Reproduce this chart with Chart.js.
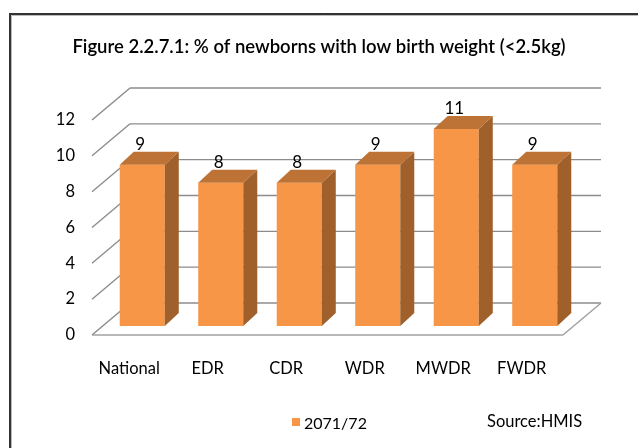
<!DOCTYPE html>
<html>
<head>
<meta charset="utf-8">
<script src="https://cdn.jsdelivr.net/npm/chart.js@4"></script>
<style>
  html, body { margin: 0; padding: 0; background: #fff; }
  #wrap { width: 638px; height: 448px; }
</style>
</head>
<body>
<div id="wrap"><canvas id="lbwChart" width="638" height="448"></canvas></div>
<script>
// chart data
const categories = ['National', 'EDR', 'CDR', 'WDR', 'MWDR', 'FWDR'];
const lbwValues = [9, 8, 8, 9, 11, 9];
const yTicks = [0, 2, 4, 6, 8, 10, 12];
const seriesLabel = '2071/72';
const titleText = 'Figure 2.2.7.1: % of newborns with low birth weight (<2.5kg)';
const sourceText = 'Source:HMIS';

// look of the fake 3D
const FONT = 'Lato, "Open Sans", sans-serif';
const FRONT = { dx: -11, dy: 9 };   // floor front edge, relative to bar plane
const BACK = { dx: 27, dy: -23 };   // back wall, relative to bar plane
const BAR_DEPTH = { dx: 14, dy: -13 };
const COL_FRONT = '#F79646';
const COL_TOP = '#BD7236';
const COL_SIDE = '#9F602B';
const GRID_COL = '#8C8C8C';

function line(ctx, x1, y1, x2, y2) {
  ctx.beginPath();
  ctx.moveTo(x1, y1);
  ctx.lineTo(x2, y2);
  ctx.stroke();
}

// frame + title + legend
const framePlugin = {
  id: 'frame',
  beforeDraw(chart) {
    const ctx = chart.ctx;
    ctx.save();
    ctx.fillStyle = '#fff';
    ctx.fillRect(0, 0, chart.width, chart.height);
    ctx.strokeStyle = '#BBBBBB';
    ctx.lineWidth = 1;
    line(ctx, 11.5, chart.height, 11.5, 15.5);
    line(ctx, 11.5, 15.5, chart.width, 15.5);
    ctx.strokeStyle = '#333';
    ctx.lineWidth = 2;
    line(ctx, 10, chart.height, 10, 14);
    line(ctx, 9, 14, chart.width, 14);
    ctx.restore();
  },
  afterDraw(chart) {
    const ctx = chart.ctx;
    ctx.save();
    ctx.fillStyle = '#000';
    ctx.textBaseline = 'middle';
    ctx.textAlign = 'center';
    ctx.font = '600 18.5px ' + FONT;
    ctx.fillText(titleText, chart.width / 2, 47);

    const ds = chart.data.datasets[0];
    ctx.fillStyle = ds.backgroundColor;
    ctx.fillRect(292, 418, 8, 8);
    ctx.fillStyle = '#000';
    ctx.textAlign = 'left';
    ctx.font = '16px ' + FONT;
    ctx.fillText(ds.label, 304, 424);
    ctx.font = '16.5px ' + FONT;
    ctx.fillText(sourceText, 487, 422);
    ctx.restore();
  }
};

// back wall, side wall and floor
const wallsPlugin = {
  id: 'walls',
  beforeDatasetsDraw(chart) {
    const ctx = chart.ctx;
    const y = chart.scales.y;
    const L = chart.chartArea.left, R = chart.chartArea.right;
    ctx.save();
    ctx.strokeStyle = GRID_COL;
    ctx.lineWidth = 1.4;
    yTicks.forEach(v => {
      const yb = y.getPixelForValue(v);
      line(ctx, L + BACK.dx, yb + BACK.dy, R + BACK.dx, yb + BACK.dy);
      line(ctx, L + FRONT.dx, yb + FRONT.dy, L + BACK.dx, yb + BACK.dy);
    });
    const y0 = y.getPixelForValue(0);
    ctx.strokeStyle = '#A0A0A0';
    line(ctx, L + FRONT.dx, y0 + FRONT.dy, R + FRONT.dx, y0 + FRONT.dy);
    line(ctx, R + FRONT.dx, y0 + FRONT.dy, R + BACK.dx, y0 + BACK.dy);
    ctx.restore();
  },
  afterDatasetsDraw(chart) {
    const ctx = chart.ctx;
    const meta = chart.getDatasetMeta(0);
    ctx.save();
    meta.data.forEach((bar, i) => {
      const left = bar.x - bar.width / 2;
      const right = bar.x + bar.width / 2;
      // side face
      ctx.fillStyle = COL_SIDE;
      ctx.beginPath();
      ctx.moveTo(right, bar.y);
      ctx.lineTo(right + BAR_DEPTH.dx, bar.y + BAR_DEPTH.dy);
      ctx.lineTo(right + BAR_DEPTH.dx, bar.base + BAR_DEPTH.dy);
      ctx.lineTo(right, bar.base);
      ctx.closePath();
      ctx.fill();
      // top face
      ctx.fillStyle = COL_TOP;
      ctx.beginPath();
      ctx.moveTo(left, bar.y);
      ctx.lineTo(left + BAR_DEPTH.dx, bar.y + BAR_DEPTH.dy);
      ctx.lineTo(right + BAR_DEPTH.dx, bar.y + BAR_DEPTH.dy);
      ctx.lineTo(right, bar.y);
      ctx.closePath();
      ctx.fill();
      // value label
      ctx.fillStyle = '#000';
      ctx.font = '17px ' + FONT;
      ctx.textAlign = 'center';
      ctx.textBaseline = 'middle';
      ctx.fillText(String(lbwValues[i]), bar.x - 2, bar.y - 20);
    });
    ctx.restore();
  }
};

const ctx = document.getElementById('lbwChart').getContext('2d');
const lbwChart = new Chart(ctx, {
  type: 'bar',
  data: {
    labels: categories,
    datasets: [{
      label: seriesLabel,
      data: lbwValues,
      backgroundColor: COL_FRONT,
      borderWidth: 0,
      barPercentage: 0.574,
      categoryPercentage: 1
    }]
  },
  options: {
    responsive: false,
    animation: false,
    layout: { padding: { left: 0, right: 64, top: 111, bottom: 0 } },
    plugins: {
      legend: { display: false },
      title: { display: false },
      tooltip: { enabled: false }
    },
    scales: {
      x: {
        grid: { display: false, drawTicks: false },
        border: { display: false },
        ticks: {
          color: '#000',
          font: { family: FONT, size: 16.5 },
          padding: 33,
          labelOffset: -13,
          maxRotation: 0
        },
        afterFit(scale) { scale.height = 122; }
      },
      y: {
        min: 0,
        max: 12,
        grid: { display: false, drawTicks: false },
        border: { display: false },
        ticks: {
          stepSize: 2,
          color: '#000',
          font: { family: FONT, size: 16.5 },
          padding: 28,
          labelOffset: 9
        },
        afterFit(scale) { scale.width = 103; }
      }
    }
  },
  plugins: [framePlugin, wallsPlugin]
});
</script>
</body>
</html>
